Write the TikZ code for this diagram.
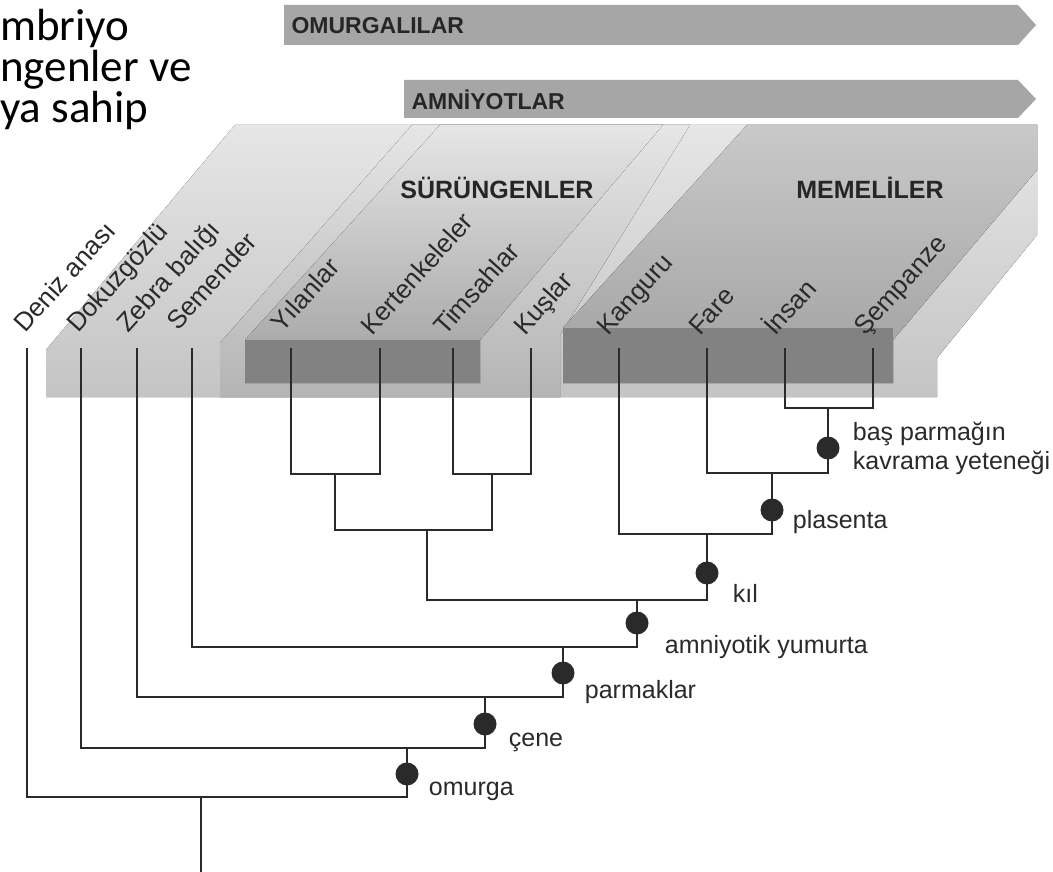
\documentclass[tikz,border=0pt]{standalone}
\usepackage{fontspec}
\setmainfont{Liberation Sans}
\newfontfamily\calibri{Carlito}
\usetikzlibrary{positioning}

\definecolor{inkgray}{HTML}{2A2A2A}
\definecolor{bannergray}{HTML}{A6A6A6}
\definecolor{lighttop}{HTML}{E6E6E6}
\definecolor{lightbot}{HTML}{C4C4C4}
\definecolor{midbot}{HTML}{B4B4B4}
\definecolor{bandtop}{HTML}{C9C9C9}
\definecolor{bandbot}{HTML}{A0A0A0}
\definecolor{darkbox}{HTML}{828282}

\begin{document}
\begin{tikzpicture}[x=1pt, y=-1pt,
  branch/.style={draw=inkgray, line width=1.7pt},
  dot/.style={circle, fill=inkgray, inner sep=0pt, minimum size=23pt},
  taxon/.style={rotate=48, anchor=base west, inner sep=0pt, text=inkgray,
    font=\fontsize{26}{30}\selectfont},
  feat/.style={text=inkgray, inner sep=0pt, align=left,
    font=\fontsize{25}{29}\selectfont},
  group/.style={text=black!85, font=\bfseries\fontsize{25}{30}\selectfont},
  bannertext/.style={anchor=west, text=black!85,
    font=\bfseries\fontsize{23}{28}\selectfont}]

  \useasboundingbox[fill=white] (0,0) rectangle (1053,872);

  % Intro text (cut off at the left)
  \node[anchor=north west, inner sep=0pt, align=left,
    font=\calibri\fontsize{45}{41}\selectfont] (intro) at (0,9)
    {mbriyo\\ngenler ve\\ya sahip};

  % Banners
  \fill[bannergray] (284,5) -- (1018,5) -- (1036,25) -- (1018,45) -- (284,45) -- cycle;
  \fill[bannergray] (404,80) -- (1018,80) -- (1036,99) -- (1018,118) -- (404,118) -- cycle;
  \node[bannertext] (omurgali) at (288,26) {OMURGALILAR};
  \node[bannertext] (amniyot) at (408,100) {AMNİYOTLAR};

  % Shaded backdrop
  \fill[top color=lighttop, bottom color=lightbot]
    (46,397) -- (46,350) -- (235,125) -- (1037,125) -- (1037,235)
    -- (937,358) -- (937,397) -- cycle;
  \fill[top color=lighttop, bottom color=midbot]
    (220,397) -- (220,343) -- (412,125) -- (690,125) -- (560,335) -- (560,397) -- cycle;
  \fill[top color=lighttop, bottom color=bandbot]
    (245,383) -- (245,340) -- (440,125) -- (663,125) -- (480,340) -- (480,383) -- cycle;
  \fill[top color=bandtop, bottom color=bandbot]
    (563,383) -- (563,328) -- (747,125) -- (1037,125) -- (1037,170)
    -- (893,340) -- (893,383) -- cycle;
  \fill[darkbox] (245,340) rectangle (480,383);
  \fill[darkbox] (563,328) rectangle (893,383);
  \node[group] (surungen) at (497,188) {SÜRÜNGENLER};
  \node[group] (memeli) at (870,188) {MEMELİLER};

  % Leaf tips
  \coordinate (t-deniz) at (27,348);
  \coordinate (t-dokuz) at (81,348);
  \coordinate (t-zebra) at (137,348);
  \coordinate (t-sem) at (192,348);
  \coordinate (t-yilan) at (291,348);
  \coordinate (t-kert) at (380,348);
  \coordinate (t-tims) at (453,348);
  \coordinate (t-kus) at (531,348);
  \coordinate (t-kang) at (619,348);
  \coordinate (t-fare) at (707,348);
  \coordinate (t-insan) at (785,348);
  \coordinate (t-semp) at (873,348);

  % Clade joints
  \coordinate (n-hom) at (828,408);
  \coordinate (n-pri) at (772,473);
  \coordinate (n-mam) at (707,534);
  \coordinate (n-squ) at (335,474);
  \coordinate (n-arc) at (492,474);
  \coordinate (n-rep) at (427,530);
  \coordinate (n-amn) at (637,600);
  \coordinate (n-tet) at (563,647);
  \coordinate (n-gna) at (485,697);
  \coordinate (n-ver) at (407,748);
  \coordinate (n-root) at (201,797);
  \coordinate (root) at (201,872);

  % Taxa
  \node[taxon] (deniz) at ([shift={(-2,-14)}]t-deniz) {Deniz anası};
  \node[taxon] (dokuz) at ([shift={(-3,-14)}]t-dokuz) {Dokuzgözlü};
  \node[taxon] (zebra) at ([shift={(-9,-14)}]t-zebra) {Zebra balığı};
  \node[taxon] (sem) at ([shift={(-14,-16)}]t-sem) {Semender};
  \node[taxon] (yilan) at ([shift={(-9,-14)}]t-yilan) {Yılanlar};
  \node[taxon] (kert) at ([shift={(-8,-11)}]t-kert) {Kertenkeleler};
  \node[taxon] (tims) at ([shift={(-8,-11)}]t-tims) {Timsahlar};
  \node[taxon] (kus) at ([shift={(-6,-11)}]t-kus) {Kuşlar};
  \node[taxon] (kang) at ([shift={(-11,-11)}]t-kang) {Kanguru};
  \node[taxon] (fare) at ([shift={(-7,-11)}]t-fare) {Fare};
  \node[taxon] (insan) at ([shift={(-10,-11)}]t-insan) {İnsan};
  \node[taxon] (semp) at ([shift={(-8,-11)}]t-semp) {Şempanze};

  % Connect the branches
  \draw[branch] (t-insan) |- (n-hom) -| (t-semp);
  \draw[branch] (t-fare) |- (n-pri) -| (n-hom);
  \draw[branch] (t-kang) |- (n-mam) -| (n-pri);
  \draw[branch] (t-yilan) |- (n-squ) -| (t-kert);
  \draw[branch] (t-tims) |- (n-arc) -| (t-kus);
  \draw[branch] (n-squ) |- (n-rep) -| (n-arc);
  \draw[branch] (n-rep) |- (n-amn) -| (n-mam);
  \draw[branch] (t-sem) |- (n-tet) -| (n-amn);
  \draw[branch] (t-zebra) |- (n-gna) -| (n-tet);
  \draw[branch] (t-dokuz) |- (n-ver) -| (n-gna);
  \draw[branch] (t-deniz) |- (n-root) -| (n-ver);
  \draw[branch] (n-root) -- (root);

  % Traits on the stems
  \node[dot] (d-bas) at (828,448) {};
  \node[dot] (d-plas) at (772,510) {};
  \node[dot] (d-kil) at (707,573) {};
  \node[dot] (d-amn) at (637,623) {};
  \node[dot] (d-parm) at (563,673) {};
  \node[dot] (d-cene) at (485,724) {};
  \node[dot] (d-omur) at (407,774) {};

  \node[feat, right=13pt of d-bas] (l-bas) {baş parmağın\\kavrama yeteneği};
  \node[feat, right=9pt of d-plas, yshift=-12pt] (l-plas) {plasenta};
  \node[feat, right=14pt of d-kil, yshift=-20pt] (l-kil) {kıl};
  \node[feat, right=16pt of d-amn, yshift=-24pt] (l-amn) {amniyotik yumurta};
  \node[feat, right=10pt of d-parm, yshift=-19pt] (l-parm) {parmaklar};
  \node[feat, right=12pt of d-cene, yshift=-18pt] (l-cene) {çene};
  \node[feat, right=10pt of d-omur, yshift=-17pt] (l-omur) {omurga};

\end{tikzpicture}
\end{document}
